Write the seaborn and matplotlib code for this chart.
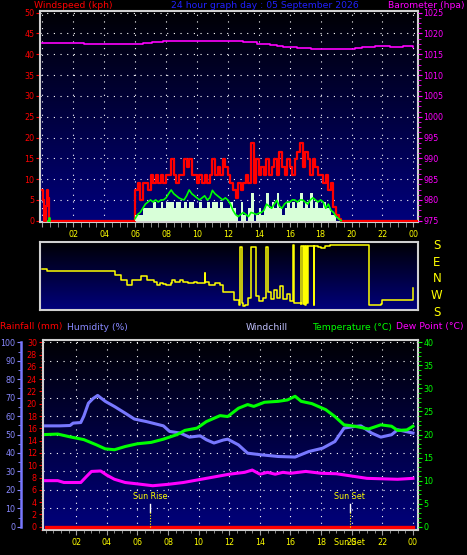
import numpy as np
import matplotlib
matplotlib.use("Agg")
import matplotlib.pyplot as plt
import matplotlib.transforms as mtransforms
from matplotlib.colors import LinearSegmentedColormap
from matplotlib.ticker import MultipleLocator
import seaborn as sns

# ---------------- data (time in hours since midnight) ----------------
# wind: 10 minute samples starting at 06:00
wind_start_hr = 6.0
gust_kph = [7.4, 9.1, 5.0, 9.1, 9.1, 7.4,
            11.0, 9.1, 11.0, 9.1, 11.0, 9.1,
            11.0, 11.0, 14.8, 11.0, 9.1, 11.0,
            11.0, 14.8, 13.0, 14.8, 11.0, 11.0,
            9.1, 11.0, 9.1, 11.0, 9.1, 11.0,
            14.8, 11.0, 13.0, 11.0, 14.8, 13.0,
            11.0, 9.1, 7.4, 5.5, 9.1, 7.4,
            9.1, 11.0, 9.1, 18.7, 9.1, 14.8,
            11.0, 13.0, 11.0, 14.8, 11.0, 13.0,
            14.8, 11.0, 16.5, 13.0, 11.0, 14.8,
            13.0, 11.0, 14.8, 16.5, 18.7, 13.0,
            16.5, 14.8, 11.0, 14.8, 13.0, 11.0,
            11.0, 9.1, 11.0, 7.4, 9.1, 3.2,
            1.5, 0.5, 0.0]
avg_kph = [0.5, 1.5, 2.0, 3.0, 4.0, 4.5,
           5.0, 4.5, 5.0, 4.5, 5.0, 5.0,
           5.5, 6.5, 7.4, 6.5, 6.0, 5.5,
           5.2, 5.0, 6.0, 7.4, 6.5, 6.0,
           5.5, 5.0, 5.5, 6.0, 5.0, 5.5,
           7.3, 6.5, 6.0, 5.5, 5.0, 5.5,
           5.0, 4.0, 2.5, 1.5, 1.0, 1.5,
           2.0, 1.5, 1.0, 2.0, 1.8, 1.5,
           1.8, 2.0, 2.5, 4.0, 3.5, 3.0,
           4.0, 4.9, 3.5, 3.0, 4.0, 4.5,
           4.5, 5.0, 5.0, 4.5, 5.0, 5.0,
           4.5, 4.0, 5.0, 5.5, 5.0, 4.5,
           5.0, 4.5, 3.0, 4.0, 2.5, 2.0,
           1.0, 0.5, 0.0]
speed_kph = [1.5, 1.5, 1.5, 3.1, 3.1, 3.1,
             3.1, 4.6, 3.1, 3.1, 4.6, 3.1,
             4.6, 4.6, 4.6, 3.1, 4.6, 4.6,
             3.1, 4.6, 3.1, 4.6, 4.6, 3.1,
             3.1, 4.6, 3.1, 3.1, 4.6, 3.1,
             4.6, 4.6, 3.1, 4.6, 3.1, 3.1,
             3.1, 4.6, 3.1, 1.5, 0.0, 4.6,
             1.5, 0.0, 3.1, 6.7, 0.0, 1.5,
             3.1, 1.5, 3.1, 6.7, 3.1, 4.6,
             3.1, 6.7, 3.1, 1.5, 3.1, 4.6,
             3.1, 4.6, 3.1, 4.6, 6.7, 3.1,
             4.6, 3.1, 6.7, 3.1, 4.6, 3.1,
             3.1, 4.6, 3.1, 3.1, 1.5, 1.5,
             0.0, 0.0, 0.0]
# a few gusts just after midnight
early_gust_hr = [0.0, 0.06, 0.12, 0.25, 0.32, 0.38, 0.45]
early_gust_kph = [7.5, 5.0, 0.0, 3.5, 7.5, 5.5, 0.0]
early_avg_hr = [0.35, 0.4, 0.5]
early_avg_kph = [0.0, 0.7, 0.0]

baro_hr = [0.0, 2.0, 2.7, 6.5, 7.1, 7.8, 12.7, 13.0, 13.9, 14.7, 15.2, 15.6,
           16.5, 17.4, 19.9, 20.2, 20.7, 21.5, 22.5, 23.3, 24.0]
baro_hpa = [1017.7, 1017.8, 1017.5, 1017.6, 1017.9, 1018.3, 1018.3, 1017.9,
            1017.5, 1017.3, 1017.0, 1016.8, 1016.4, 1016.2, 1016.2, 1016.4,
            1016.7, 1016.9, 1016.8, 1016.9, 1016.8]

dir_hr = [0.0, 0.3, 4.65, 4.7, 5.0, 5.1, 5.45, 5.7, 5.8, 6.1, 6.4, 6.75, 7.2,
          7.4, 7.6, 7.8, 8.0, 8.3, 8.4, 8.6, 8.9, 9.1, 9.4, 9.8, 10.0, 10.4,
          10.5, 10.55, 10.8, 11.2, 11.5, 11.7, 12.1, 12.4, 12.7, 12.8, 12.9,
          13.0, 13.1, 13.3, 13.5, 13.7, 13.8, 14.0, 14.3, 14.5, 14.6, 14.8,
          15.0, 15.2, 15.4, 15.6, 15.8, 16.0, 16.2, 16.3, 16.7, 16.75, 16.85,
          16.9, 17.0, 17.05, 17.15, 17.2, 17.5, 17.55, 17.6, 17.8, 18.0, 18.3,
          18.6, 21.1, 21.15, 21.9, 21.95, 23.9, 23.95, 24.0]
dir_deg = [51, 45, 45, 22, 22, 355, 328, 330, 355, 355, 15, 355, 345,
           330, 340, 335, 330, 338, 355, 345, 352, 345, 340, 345, 336, 338,
           32, 345, 330, 340, 330, 292, 290, 247, 220, 174, 230,
           215, 220, 260, 174, 174, 270, 242, 260, 170, 290, 250,
           300, 260, 320, 250, 280, 242, 183, 230, 225, 180, 225,
           178, 220, 177, 230, 177, 180, 220, 175, 172, 168, 175,
           183, 183, 220, 223, 247, 247, 310, 310]
compass = ["S", "E", "N", "W", "S"]
compass_pos = [180, 90, 0, -90, -180]

hum_hr = [0.0, 0.9, 1.6, 1.8, 2.3, 2.5, 2.8, 3.1, 3.4, 3.9, 4.5, 5.2, 5.8, 6.6,
          7.7, 8.1, 8.8, 9.4, 10.1, 10.5, 11.0, 11.6, 11.9, 12.6, 13.2, 14.1,
          15.2, 16.3, 17.2, 18.1, 18.9, 19.5, 20.2, 20.6, 21.3, 21.9, 22.6,
          23.0, 24.0]
hum_pct = [54.7, 54.7, 54.9, 56.2, 56.5, 60.0, 67.0, 69.5, 71.2, 68.0, 65.2,
           61.6, 58.4, 57.0, 54.7, 51.7, 50.8, 48.6, 49.3, 47.2, 45.4, 47.0,
           47.5, 44.4, 39.9, 39.0, 38.1, 37.8, 40.8, 42.6, 46.2, 53.5, 54.4,
           54.7, 50.8, 48.6, 49.9, 52.6, 50.8]

temp_hr = [0.0, 0.8, 1.6, 2.5, 3.3, 3.9, 4.5, 5.2, 6.0, 6.9, 7.7, 8.6, 9.1, 9.9,
           10.5, 11.4, 11.9, 12.6, 13.2, 13.6, 14.3, 15.2, 15.8, 16.3, 16.7,
           17.4, 18.3, 18.9, 19.5, 20.2, 21.1, 21.9, 22.6, 23.0, 23.6, 24.0]
temp_c = [20.0, 20.1, 19.5, 18.9, 17.8, 16.9, 16.7, 17.4, 18.0, 18.3, 19.0,
          20.0, 20.9, 21.4, 22.8, 24.1, 23.9, 25.7, 26.5, 26.1, 27.0, 27.2,
          27.5, 28.3, 27.2, 26.7, 25.4, 23.9, 22.1, 21.8, 21.2, 22.1, 21.8,
          20.9, 21.0, 21.8]

dew_hr = [0.0, 0.8, 1.2, 2.3, 2.7, 3.0, 3.6, 4.0, 4.5, 5.2, 6.0, 7.0, 8.0, 9.0,
          10.0, 11.0, 12.0, 13.0, 13.5, 14.0, 14.5, 15.0, 15.5, 16.0, 17.0,
          18.0, 19.0, 20.0, 21.0, 22.0, 23.0, 24.0]
dew_c = [10.0, 10.0, 9.6, 9.6, 11.0, 12.0, 12.1, 11.2, 10.3, 9.6, 9.3, 8.9,
         9.2, 9.6, 10.2, 10.8, 11.4, 11.8, 12.3, 11.4, 11.8, 11.4, 11.8, 11.6,
         12.0, 11.6, 11.5, 11.0, 10.5, 10.4, 10.3, 10.5]

rain_hr = [0.0, 24.0]
rain_mm = [0.0, 0.0]

sunrise_hr = 6.85
sunset_hr = 19.86

# ---------------- figure ----------------
W, H = 467, 555
fig = plt.figure(figsize=(W / 100, H / 100), dpi=100, facecolor="black")
plt.rcParams["font.family"] = ["DejaVu Sans"]


def px_axes(x0, y0, x1, y1):
    return fig.add_axes([x0 / W, 1 - y1 / H, (x1 - x0) / W, (y1 - y0) / H])


bg = LinearSegmentedColormap.from_list("bg", ["#000004", "#00007c"])
grad = np.linspace(0, 1, 256).reshape(-1, 1)
frame_col = "#d0d0d0"
tick_fs = 5.8
dots = (0, (1, 5))


def paint(ax):
    ax.imshow(grad, extent=(0, 1, 0, 1), transform=ax.transAxes,
              aspect="auto", cmap=bg, zorder=0)
    for s in ax.spines.values():
        s.set_color(frame_col)
        s.set_linewidth(1.5)


ax1 = px_axes(40, 11, 418, 222)
ax2 = px_axes(40, 242, 418, 310)
ax3 = px_axes(42.5, 340, 418, 530)
for a in (ax1, ax2, ax3):
    paint(a)

# ---- top panel: wind
wind_hr = wind_start_hr + np.arange(len(gust_kph)) / 6.0
gust_x = early_gust_hr + list(wind_hr) + [24.3]
gust_y = early_gust_kph + gust_kph + [0.0]
sns.lineplot(x=gust_x, y=gust_y, ax=ax1, color="#ff0000", lw=1.6,
             drawstyle="steps-post", estimator=None, sort=False, legend=False, zorder=3)
ax1.fill_between(wind_hr, speed_kph, 0, step="post", color="#d8ffd8",
                 lw=0, zorder=4)
sns.lineplot(x=wind_hr, y=avg_kph, ax=ax1, color="#00ff00", lw=1.2,
             estimator=None, sort=False, legend=False, zorder=5)
sns.lineplot(x=early_avg_hr, y=early_avg_kph, ax=ax1, color="#00ff00", lw=1.2,
             drawstyle="steps-post", estimator=None, sort=False, legend=False, zorder=5)

ax1.set_xlim(-0.15, 24.3)
ax1.set_ylim(-0.3, 50.4)
ax1.set_xticks(range(0, 25, 2))
ax1.xaxis.set_minor_locator(MultipleLocator(0.5))
ax1.set_yticks(range(0, 51, 5))
ax1.tick_params(axis="x", which="both", color="#a0a0a0", length=3.5,
                labelbottom=False)
ax1.tick_params(axis="y", colors="#ff0000", labelsize=tick_fs, length=3, pad=1)
ax1.set_axisbelow(True)
ax1.grid(True, which="major", color="white", linestyle=dots, lw=0.8)

axb = ax1.twinx()
sns.lineplot(x=baro_hr, y=baro_hpa, ax=axb, color="#ff00ff", lw=1.2,
             drawstyle="steps-post", estimator=None, sort=False, legend=False)
axb.set_ylim(974.7, 1025.4)
axb.set_yticks(range(975, 1026, 5))
axb.yaxis.set_minor_locator(MultipleLocator(1.25))
axb.tick_params(axis="y", which="both", colors="#ff00ff", labelsize=tick_fs,
                length=3, pad=1)
axb.tick_params(axis="y", which="minor", length=2.5)
for s in axb.spines.values():
    s.set_visible(False)
axb.set_ylabel("")

# ---- wind direction panel
dir_disp = [d if d <= 199 else d - 360 for d in dir_deg]
sns.lineplot(x=dir_hr, y=dir_disp, ax=ax2, color="#ffff00", lw=1.1,
             drawstyle="steps-post", estimator=None, sort=False, legend=False)
ax2.set_xlim(-0.15, 24.3)
ax2.set_ylim(-167, 199)
ax2.xaxis.tick_top()
ax2.set_xticks(range(2, 25, 2))
ax2.set_xticklabels([f"{h % 24:02d}" for h in range(2, 25, 2)])
ax2.tick_params(axis="x", colors="#ffff00", length=0, pad=2, labelsize=tick_fs)
ax2.set_yticks([])
tr2 = mtransforms.blended_transform_factory(ax2.transAxes, ax2.transData)
for lab, pos in zip(compass, compass_pos):
    ax2.text(1.05, pos, lab, transform=tr2, color="#ffff00", fontsize=8.5,
             ha="center", va="center", clip_on=False)

# ---- bottom panel: rain / humidity / temperature
for v in range(3, 31, 3):
    ax3.axhline(v, color="white", linestyle=dots, lw=0.8, zorder=1)
for h in range(2, 25, 2):
    ax3.axvline(h, color="white", linestyle=dots, lw=0.8, zorder=1)
sns.lineplot(x=rain_hr, y=rain_mm, ax=ax3, color="#ff0000", lw=2.4,
             estimator=None, sort=False, legend=False, zorder=3)
ax3.set_xlim(-0.2, 24.33)
ax3.set_ylim(-0.525, 30.375)
ax3.set_yticks(range(0, 31, 2))
ax3.yaxis.set_minor_locator(MultipleLocator(0.5))
ax3.tick_params(axis="y", which="both", colors="#ff0000", labelsize=tick_fs,
                length=3, pad=1)
ax3.tick_params(axis="y", which="minor", length=1.5)
ax3.set_xticks(range(2, 25, 2))
ax3.set_xticklabels([f"{h % 24:02d}" for h in range(2, 25, 2)])
ax3.xaxis.set_minor_locator(MultipleLocator(0.5))
ax3.tick_params(axis="x", which="both", color="#a0a0a0", labelcolor="#ffff00",
                labelsize=tick_fs, length=3.5, pad=2.5)
ax3.tick_params(axis="x", which="minor", length=2.5)

axh = ax3.twinx()
sns.lineplot(x=hum_hr, y=hum_pct, ax=axh, color="#7878ff", lw=2.2,
             estimator=None, sort=False, legend=False)
axh.set_ylim(-1.75, 101.25)
axh.yaxis.set_ticks_position("left")
axh.yaxis.set_label_position("left")
for s in axh.spines.values():
    s.set_visible(False)
axh.spines["left"].set_visible(True)
axh.spines["left"].set_position(("outward", 15.5))
axh.spines["left"].set_color("#7878ff")
axh.spines["left"].set_linewidth(1.8)
axh.spines["left"].set_bounds(0, 100)
axh.set_yticks(range(0, 101, 10))
axh.yaxis.set_minor_locator(MultipleLocator(5))
axh.tick_params(axis="y", which="both", colors="#8888ff", labelsize=tick_fs,
                length=3, pad=1)
axh.tick_params(axis="y", which="minor", length=2)
axh.set_ylabel("")

axt = ax3.twinx()
sns.lineplot(x=temp_hr, y=temp_c, ax=axt, color="#00ff00", lw=2.2,
             estimator=None, sort=False, legend=False)
sns.lineplot(x=dew_hr, y=dew_c, ax=axt, color="#ff00ff", lw=2.2,
             estimator=None, sort=False, legend=False)
axt.set_ylim(-0.7, 40.5)
for s in axt.spines.values():
    s.set_visible(False)
axt.set_yticks(range(0, 41, 5))
axt.yaxis.set_minor_locator(MultipleLocator(1))
axt.tick_params(axis="y", which="both", colors="#00ff00", labelsize=tick_fs,
                length=3, pad=1)
axt.tick_params(axis="y", which="minor", length=2)
axt.set_ylabel("")

# sun rise / sun set markers
tr3 = mtransforms.blended_transform_factory(ax3.transData, ax3.transAxes)
for h in (sunrise_hr, sunset_hr):
    ax3.axvline(h, ymin=0.096, ymax=0.137, color="white", lw=1, zorder=4)
    ax3.axvline(h, ymin=0.016, ymax=0.096, color="#ffff00", lw=0.8,
                linestyle=(0, (1, 1.5)), zorder=4)
ax3.text(sunrise_hr, 0.175, "Sun Rise", transform=tr3, color="#ffff00",
         fontsize=tick_fs, ha="center", va="center", zorder=5)
ax3.text(sunset_hr, 0.175, "Sun Set", transform=tr3, color="#ffff00",
         fontsize=tick_fs, ha="center", va="center", zorder=5)
ax3.text(sunset_hr, -0.068, "Sun Set", transform=tr3, color="#ffff00",
         fontsize=tick_fs, ha="center", va="center", clip_on=False)

# ---- header texts
def head(x, y, s, c, ha="left"):
    fig.text(x / W, 1 - y / H, s, color=c, fontsize=6.7, ha=ha, va="center")


head(34, 6, "Windspeed (kph)", "#ff0000")
head(265, 6, "24 hour graph day : 05 September 2026", "#2020ff", ha="center")
head(465, 6, "Barometer (hpa)", "#ff00ff", ha="right")
head(0, 327, "Rainfall (mm)", "#ff0000")
head(67, 327, "Humidity (%)", "#8888ff")
head(246, 327, "Windchill", "#c0c0ff")
head(392, 327, "Temperature (°C)", "#00ff00", ha="right")
head(464, 327, "Dew Point (°C)", "#ff00ff", ha="right")

fig.savefig("out.png", dpi=100, facecolor="black")
